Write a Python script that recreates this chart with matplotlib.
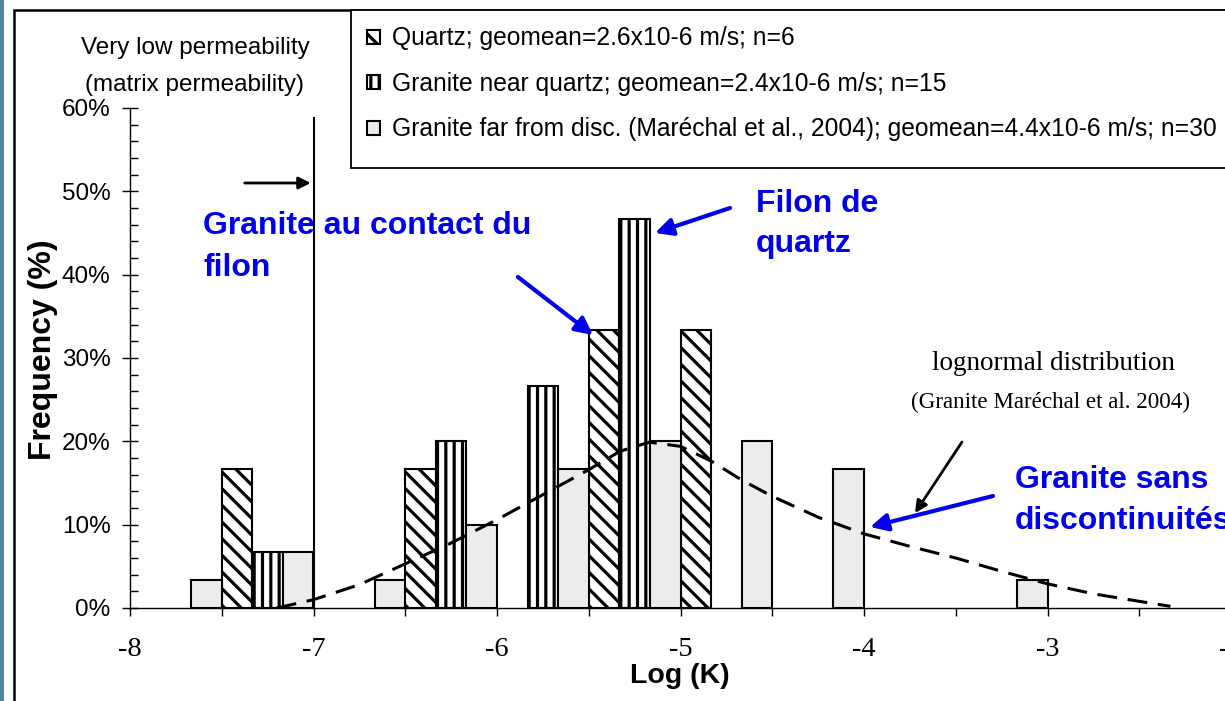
import numpy as np
import matplotlib
matplotlib.use('Agg')
from matplotlib import pyplot as plt
from matplotlib.patches import Patch, Rectangle
from matplotlib.ticker import MultipleLocator, FuncFormatter

plt.rcParams['font.family'] = ['Liberation Sans', 'DejaVu Sans']
plt.rcParams['axes.unicode_minus'] = False
plt.rcParams['hatch.linewidth'] = 2.3

# half-unit classes of log(K), three columns per class
bin_starts = [-8.0, -7.5, -7.0, -6.5, -6.0, -5.5, -5.0, -4.5, -4.0, -3.5, -3.0, -2.5]
quartz = [0, 16.67, 0, 16.67, 0, 33.33, 33.33, 0, 0, 0, 0, 0]
near_quartz = [0, 6.67, 0, 20.0, 26.67, 46.67, 0, 0, 0, 0, 0, 0]
far_disc = [3.33, 6.67, 3.33, 10.0, 16.67, 20.0, 20.0, 16.67, 0, 3.33, 0, 0]

# lognormal fit of the far-from-discontinuity granite (Maréchal et al. 2004)
logn_x = [-7.2, -7.0, -6.75, -6.5, -6.25, -6.0, -5.75, -5.5, -5.33, -5.17, -5.0,
          -4.83, -4.67, -4.5, -4.25, -4.0, -3.75, -3.5, -3.25, -3.0, -2.75, -2.5, -2.33]
logn_y = [0.0, 1.0, 2.8, 5.3, 7.8, 10.6, 13.6, 16.6, 18.8, 19.9, 19.4,
          17.6, 15.4, 13.4, 10.9, 8.9, 7.4, 6.0, 4.4, 2.9, 1.7, 0.8, 0.2]

labels = ['Quartz; geomean=2.6x10-6 m/s; n=6',
          'Granite near quartz; geomean=2.4x10-6 m/s; n=15',
          'Granite far from disc. (Maréchal et al., 2004); geomean=4.4x10-6 m/s; n=30']

W, H = 1225, 701
fig = plt.figure(figsize=(W / 100, H / 100), dpi=100)
fig.patch.set_facecolor('white')
ax = fig.add_axes([130 / W, (H - 608) / H, 1101 / W, 500 / H])

# slide edge, chart frame and legend box
fig.patches.append(Rectangle((0, 0), 3.5 / W, 1, transform=fig.transFigure,
                             facecolor='#4b87a3', edgecolor='none'))
fig.patches.append(Rectangle((14 / W, -0.1), 1.2, 1.1 - 10 / H, transform=fig.transFigure,
                             facecolor='none', edgecolor='black', linewidth=1.8))
fig.patches.append(Rectangle((351 / W, 1 - 168 / H), 1.0, 158 / H, transform=fig.transFigure,
                             facecolor='white', edgecolor='black', linewidth=1.3, zorder=5))

bw = 1 / 6
styles = [dict(facecolor='white', hatch='\\\\'),
          dict(facecolor='white', hatch='||'),
          dict(facecolor='#ececec', hatch=None)]
series = [quartz, near_quartz, far_disc]
starts = np.array(bin_starts)
for i, (vals, st) in enumerate(zip(series, styles)):
    vals = np.array(vals, dtype=float)
    m = vals > 0
    ax.bar(starts[m] + i * bw, vals[m], width=bw, align='edge',
           edgecolor='black', linewidth=1.5, zorder=2, **st)

ax.plot(logn_x, logn_y, color='black', linewidth=2.2, dashes=(6.5, 3.5), zorder=4)

ax.set_xlim(-8, -2)
ax.set_ylim(0, 60)
ax.spines['top'].set_visible(False)
ax.spines['right'].set_visible(False)
ax.spines['left'].set_linewidth(1.0)
ax.spines['bottom'].set_linewidth(1.0)

ax.xaxis.set_major_locator(MultipleLocator(1))
ax.xaxis.set_minor_locator(MultipleLocator(0.5))
ax.yaxis.set_major_locator(MultipleLocator(10))
ax.yaxis.set_minor_locator(MultipleLocator(2))
ax.yaxis.set_major_formatter(FuncFormatter(lambda v, p: '%d%%' % v))
ax.xaxis.set_major_formatter(FuncFormatter(lambda v, p: '%d' % v))
ax.tick_params(axis='x', which='both', direction='out', length=6, width=1, pad=15)
ax.tick_params(axis='y', which='major', direction='inout', length=12, width=1, pad=8)
ax.tick_params(axis='y', which='minor', direction='in', length=6, width=1)
for t in ax.get_xticklabels():
    t.set_fontfamily('Liberation Serif')
    t.set_fontsize(20.5)
for t in ax.get_yticklabels():
    t.set_fontsize(17.5)

ax.set_xlabel('Log (K)', fontsize=20.5, fontweight='bold', va='center')
ax.xaxis.set_label_coords(0.4995, -0.136)
ax.set_ylabel('Frequency (%)', fontsize=23, fontweight='bold', va='center')
ax.yaxis.set_label_coords(-0.079, 0.516)

# matrix permeability limit
ax.plot([-7, -7], [0, 58.8], color='black', linewidth=1.5, zorder=3, clip_on=False)
ax.annotate('', xy=(-7.0, 51.0), xytext=(-7.39, 51.0),
            arrowprops=dict(arrowstyle='-|>', color='black', lw=2, mutation_scale=18))
ax.text(-7.646, 67.2, 'Very low permeability', fontsize=17.5, ha='center', va='center')
ax.text(-7.651, 62.76, '(matrix permeability)', fontsize=17.5, ha='center', va='center')

blue = '#0000ee'
bkw = dict(color=blue, fontsize=23, fontweight='bold', ha='left', va='center')
ax.text(-7.602, 45.84, 'Granite au contact du', **bkw)
ax.text(-7.602, 40.80, 'filon', **bkw)
ax.text(-4.589, 48.48, 'Filon de', **bkw)
ax.text(-4.589, 43.68, 'quartz', **bkw)
ax.text(-3.177, 15.36, 'Granite sans', **bkw)
ax.text(-3.177, 10.44, 'discontinuités', **bkw)

akw = dict(arrowstyle='-|>', color=blue, lw=3, mutation_scale=26, shrinkA=0, shrinkB=0)
ax.annotate('', xy=(-5.139, 45.0), xytext=(-4.730, 48.0), arrowprops=akw)
ax.annotate('', xy=(-5.477, 32.76), xytext=(-5.886, 39.72), arrowprops=akw)
ax.annotate('', xy=(-3.967, 9.72), xytext=(-3.297, 13.44), arrowprops=akw)
ax.annotate('', xy=(-3.722, 11.4), xytext=(-3.466, 19.92),
            arrowprops=dict(arrowstyle='-|>', color='black', lw=2, mutation_scale=18,
                            shrinkA=0, shrinkB=0))

ax.text(-2.970, 29.4, 'lognormal distribution', fontfamily='Liberation Serif',
        fontsize=19.5, ha='center', va='center')
ax.text(-2.981, 24.72, '(Granite Maréchal et al. 2004)', fontfamily='Liberation Serif',
        fontsize=16.6, ha='center', va='center')

handles = [Patch(edgecolor='black', linewidth=1.5, **st) for st in styles]
leg = fig.legend(handles, labels, loc='upper left', bbox_to_anchor=(351 / W, 1 - 10 / H),
                 bbox_transform=fig.transFigure, fontsize=17.7, frameon=False,
                 handlelength=0.5, handleheight=0.5, handletextpad=0.5,
                 labelspacing=0.87, borderpad=0.67, borderaxespad=0)
leg.set_zorder(6)

fig.savefig('out.png', dpi=100)
